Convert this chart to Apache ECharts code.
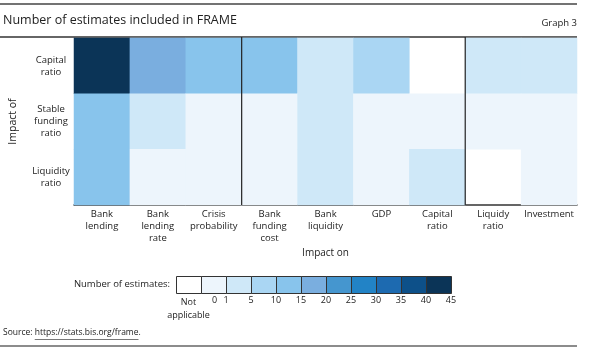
<!DOCTYPE html>
<html>
  <head>
    <meta charset="utf-8" />
    <title>Number of estimates included in FRAME</title>
    <script src="https://cdn.jsdelivr.net/npm/echarts@6/dist/echarts.min.js"></script>
  </head>
  <body style="margin:0;padding:0;background:#fff;">
    <div id="chart" style="width:589px;height:354px;"></div>
    <script type="text/javascript">
      // impact on (columns) / impact of (rows)
      var impactOn = ['Bank\nlending', 'Bank\nlending\nrate', 'Crisis\nprobability', 'Bank\nfunding\ncost',
                      'Bank\nliquidity', 'GDP', 'Capital\nratio', 'Liquidy\nratio', 'Investment'];
      var impactOf = ['Capital\nratio', 'Stable\nfunding\nratio', 'Liquidity\nratio'];

      // number of estimates per cell, null = not applicable
      var capitalRatio   = [42, 17, 12, 12, 3, 7, null, 3, 3];
      var stableFunding  = [12, 3, 0, 0, 3, 0, 0, 0, 0];
      var liquidityRatio = [12, 0, 0, 0, 3, 0, 3, null, 0];

      // columns where a group starts (drawn as a dark rule)
      var groupStarts = [3, 7];

      // legend bins
      var binEdges = [0, 1, 5, 10, 15, 20, 25, 30, 35, 40, 45];
      var binColors = ['#ffffff', '#edf5fc', '#cfe8f8', '#aad6f3', '#88c4ec', '#7aaedf',
                       '#4596cf', '#2283c6', '#1d6ab0', '#0d5089', '#0b3457'];

      var rows = [capitalRatio, stableFunding, liquidityRatio];
      var cells = [];
      rows.forEach(function (row, y) {
        row.forEach(function (v, x) {
          if (v !== null) cells.push([x, y, v]);
        });
      });

      var pieces = [{ min: 0, max: 0, color: binColors[1] }];
      for (var i = 1; i < binEdges.length - 1; i++) {
        pieces.push({ gt: i === 1 ? 0 : binEdges[i], lte: binEdges[i + 1], color: binColors[i + 1] });
      }

      var font = 'Open Sans';
      var ink = '#222';
      var rule = '#333';

      // measure source text so the link can be underlined
      var ctx = document.createElement('canvas').getContext('2d');
      ctx.font = '8.5px ' + font;
      var srcPre = ctx.measureText('Source: ').width;
      var srcUrl = ctx.measureText('https://stats.bis.org/frame').width;

      // legend drawn as boxes under the chart
      var legend = [];
      var lx = 176, lw = 25, ly = 276, lh = 17;
      for (var k = 0; k < binColors.length; k++) {
        legend.push({
          type: 'rect', left: lx + k * lw, top: ly,
          shape: { width: lw, height: lh },
          style: { fill: binColors[k], stroke: '#333', lineWidth: 1 }
        });
      }
      legend.push({ type: 'text', x: lx + lw / 2, y: ly + lh + 3,
        style: { text: 'Not\napplicable', font: '9px ' + font, fill: ink, align: 'center', lineHeight: 13 } });
      legend.push({ type: 'text', x: lx + lw * 1.5 + 1, y: ly + lh + 3,
        style: { text: '0', font: '9px ' + font, fill: ink, align: 'center' } });
      for (var e = 1; e < binEdges.length; e++) {
        legend.push({ type: 'text', x: lx + (e + 1) * lw, y: ly + lh + 3,
          style: { text: String(binEdges[e]), font: '9px ' + font, fill: ink, align: 'center' } });
      }
      legend.push({ type: 'text', x: lx - 6, y: ly + 3,
        style: { text: 'Number of estimates:', font: '9.5px ' + font, fill: ink, align: 'right' } });

      var myChart = echarts.init(document.getElementById('chart'), null, { renderer: 'canvas' });
      myChart.setOption({
        animation: false,
        backgroundColor: '#fff',
        textStyle: { fontFamily: font },
        grid: { left: 71, right: 12, top: 38, height: 167 },
        visualMap: { type: 'piecewise', show: false, seriesIndex: 0, dimension: 2, pieces: pieces },
        xAxis: {
          type: 'category',
          data: impactOn,
          name: 'Impact on',
          nameLocation: 'middle',
          nameGap: 43,
          nameTextStyle: { fontSize: 10, color: ink, fontFamily: font },
          axisLine: { lineStyle: { color: rule, width: 1.5 } },
          axisTick: { length: 35, interval: 0, lineStyle: { color: rule, width: 1.2 } },
          axisLabel: { interval: 0, margin: 3, fontSize: 9.5, lineHeight: 12, color: ink, fontFamily: font },
          splitLine: { show: false }
        },
        yAxis: {
          type: 'category',
          data: impactOf,
          inverse: true,
          name: 'Impact of',
          nameLocation: 'middle',
          nameGap: 55,
          nameRotate: 90,
          nameTextStyle: { fontSize: 10.5, color: ink, fontFamily: font },
          axisLine: { lineStyle: { color: '#555', width: 1 } },
          axisTick: { length: 41, interval: 0, lineStyle: { color: rule, width: 1.2 } },
          axisLabel: { interval: 0, margin: 23, align: 'center', fontSize: 9.5, lineHeight: 12, color: ink, fontFamily: font },
          splitLine: { show: false }
        },
        graphic: [
          { type: 'line', shape: { x1: 0, y1: 4, x2: 577, y2: 4 }, style: { stroke: '#444', lineWidth: 1.5 } },
          { type: 'text', x: 3, y: 14, style: { text: 'Number of estimates included in FRAME', font: '12.5px ' + font, fill: ink } },
          { type: 'text', x: 577, y: 18, style: { text: 'Graph 3', font: '9.5px ' + font, fill: ink, align: 'right' } },
          { type: 'line', shape: { x1: 0, y1: 37, x2: 577, y2: 37 }, style: { stroke: rule, lineWidth: 1.5 } },
          { type: 'text', x: 3, y: 328, style: { text: 'Source: https://stats.bis.org/frame.', font: '8.5px ' + font, fill: ink } },
          { type: 'line', shape: { x1: 3 + srcPre, y1: 339.5, x2: 3 + srcPre + srcUrl, y2: 339.5 }, style: { stroke: '#555', lineWidth: 0.8 } },
          { type: 'line', shape: { x1: 0, y1: 346, x2: 577, y2: 346 }, style: { stroke: '#666', lineWidth: 1.5 } }
        ].concat(legend),
        series: [
          {
            type: 'heatmap',
            data: cells,
            itemStyle: { borderWidth: 0 },
            emphasis: { disabled: true }
          },
          {
            type: 'custom',
            data: groupStarts.map(function (c) { return [c, 0]; }),
            z: 10,
            silent: true,
            renderItem: function (params, api) {
              var cs = params.coordSys;
              var x = api.coord([api.value(0), 0])[0] - api.size([1, 0])[0] / 2;
              return {
                type: 'line',
                shape: { x1: x, y1: cs.y - 1, x2: x, y2: cs.y + cs.height },
                style: { stroke: '#222', lineWidth: 1.2 }
              };
            }
          }
        ]
      });
    </script>
  </body>
</html>
